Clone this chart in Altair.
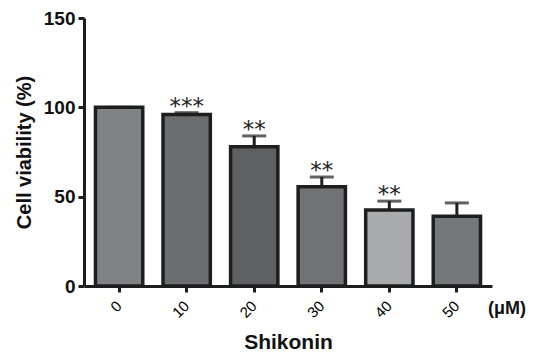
import altair as alt
import pandas as pd

conc = ["0", "10", "20", "30", "40", "50"]
viability = [100, 96, 78, 55.5, 42.5, 39]
sem = [0, 1, 6, 5.5, 5, 7.5]
sig = ["", "***", "**", "**", "**", ""]
colors = ["#818286", "#6c6d70", "#5f6063", "#717275", "#a9aaac", "#76777a"]

df = pd.DataFrame({
    "conc": conc,
    "viability": viability,
    "upper": [v + s for v, s in zip(viability, sem)],
    "sig": sig,
})

FONT = "Liberation Sans"

x = alt.X(
    "conc:N",
    sort=conc,
    scale=alt.Scale(paddingInner=0.3, paddingOuter=0.17),
    axis=alt.Axis(
        title="Shikonin",
        titleFont=FONT, titleFontSize=21, titleFontWeight="bold", titleColor="#111",
        titleBaseline="middle", titleY=56,
        labelAngle=-45, labelAlign="right", labelBaseline="middle",
        labelFont=FONT, labelFontSize=15, labelColor="#000", labelPadding=11,
        domainColor="#1e1e1e", domainWidth=3,
        tickColor="#1e1e1e", tickWidth=3, tickSize=6,
        grid=False,
    ),
)

yscale = alt.Scale(domain=[0, 150], nice=False)

bars = alt.Chart(df).mark_bar(stroke="#1e1e1e", strokeWidth=3.5).encode(
    x=x,
    y=alt.Y(
        "viability:Q",
        scale=yscale,
        axis=alt.Axis(
            title="Cell viability (%)",
            titleFont=FONT, titleFontSize=20, titleFontWeight="bold", titleColor="#111",
            titleAngle=-90, titleX=-60, titleY=134, titleAlign="center", titleBaseline="middle",
            values=[0, 50, 100, 150],
            labelFont=FONT, labelFontSize=19, labelFontWeight="bold", labelColor="#111",
            labelPadding=3,
            domainColor="#1e1e1e", domainWidth=3,
            tickColor="#1e1e1e", tickWidth=3, tickSize=6,
            grid=False,
        ),
    ),
    fill=alt.Fill("conc:N", sort=conc, scale=alt.Scale(domain=conc, range=colors), legend=None),
)

err = alt.Chart(df).mark_rule(color="#1e1e1e", strokeWidth=3).encode(
    x=alt.X("conc:N", sort=conc),
    y=alt.Y("viability:Q", scale=yscale),
    y2="upper:Q",
)

caps = alt.Chart(df).mark_tick(color="#1e1e1e", thickness=3, size=24, orient="horizontal").encode(
    x=alt.X("conc:N", sort=conc),
    y=alt.Y("upper:Q", scale=yscale),
)

stars = alt.Chart(df).mark_text(
    font="DejaVu Sans", fontSize=23, color="#222", dy=-6, baseline="middle"
).encode(
    x=alt.X("conc:N", sort=conc),
    y=alt.Y("upper:Q", scale=yscale),
    text="sig:N",
)

unit = alt.Chart(pd.DataFrame({"t": ["(μM)"]})).mark_text(
    font=FONT, fontSize=18, fontWeight="bold", color="#111", align="left", baseline="middle"
).encode(
    x=alt.value(404),
    y=alt.value(291),
    text="t:N",
)

chart = alt.layer(bars, err, caps, stars, unit).properties(
    width=408,
    height=268,
    autosize=alt.AutoSizeParams(type="none"),
    padding={"left": 76, "top": 10, "right": 39, "bottom": 68},
).configure_view(stroke=None)

chart.save("out.html", embed_options={"renderer": "svg", "actions": False})
